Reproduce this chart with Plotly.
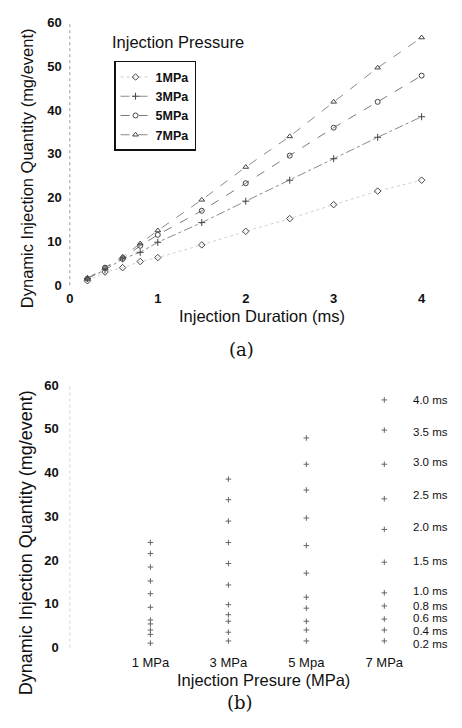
import plotly.graph_objects as go

# ---- data ----
durations = [0.2, 0.4, 0.6, 0.8, 1.0, 1.5, 2.0, 2.5, 3.0, 3.5, 4.0]
pressures = ["1MPa", "3MPa", "5MPa", "7MPa"]
pressure_vals = [1, 3, 5, 7]
pressure_ticks = ["1 MPa", "3 MPa", "5 Mpa", "7 MPa"]
q_1mpa = [1.0, 3.0, 4.0, 5.4, 6.3, 9.2, 12.3, 15.2, 18.4, 21.5, 24.0]
q_3mpa = [1.5, 3.5, 6.0, 7.5, 9.8, 14.3, 19.2, 24.0, 28.9, 33.8, 38.5]
q_5mpa = [1.5, 4.0, 6.0, 9.0, 11.5, 17.0, 23.3, 29.6, 36.0, 41.9, 47.9]
q_7mpa = [1.5, 4.0, 6.5, 9.5, 12.5, 19.5, 27.0, 34.0, 41.9, 49.7, 56.6]
series = [q_1mpa, q_3mpa, q_5mpa, q_7mpa]
dur_labels = ["0.2 ms", "0.4 ms", "0.6 ms", "0.8 ms", "1.0 ms", "1.5 ms",
              "2.0 ms", "2.5 ms", "3.0 ms", "3.5 ms", "4.0 ms"]
dur_label_y = [0.9, 3.8, 6.7, 9.6, 13.0, 19.7, 27.5, 34.9, 42.3, 49.2, 56.6]

FONT = "Arial, Liberation Sans, sans-serif"
symbols = ["diamond-open", "cross-thin-open", "circle-open", "triangle-up-open"]
dashes = ["dot", "dashdot", "dash", "dash"]
line_cols = ["#cfcfcf", "#8a8a8a", "#7a7a7a", "#8a8a8a"]

fig = go.Figure()

# (a) quantity vs duration
for name, ys, sym, dsh, lc in zip(pressures, series, symbols, dashes, line_cols):
    fig.add_trace(go.Scatter(
        x=durations, y=ys, name=name, mode="lines+markers",
        line=dict(color=lc, width=1, dash=dsh),
        marker=dict(symbol=sym, size=5, color="#444",
                    line=dict(color="#444", width=1)),
        xaxis="x", yaxis="y", cliponaxis=False))

# (b) quantity vs pressure
for pv, ys in zip(pressure_vals, series):
    fig.add_trace(go.Scatter(
        x=[pv] * len(ys), y=ys, mode="markers", showlegend=False,
        marker=dict(symbol="cross-thin-open", size=4, color="#666",
                    line=dict(color="#666", width=1)),
        xaxis="x2", yaxis="y2", cliponaxis=False))

W, H = 462, 728
px = lambda v: v / W
py = lambda v: 1 - v / H

def axis_common(bold=True, standoff=9, size=13):
    return dict(showgrid=False, zeroline=False, showline=False, ticks="",
                ticklabelstandoff=standoff,
                tickfont=dict(family=FONT, size=size, color="#111",
                              weight="bold" if bold else "normal"))

fig.update_layout(
    width=W, height=H, margin=dict(l=0, r=0, t=0, b=0),
    paper_bgcolor="white", plot_bgcolor="white",
    font=dict(family=FONT, color="#111"),
    xaxis=dict(domain=[px(67), px(425)], range=[0, 4], tickvals=[0, 1, 2, 3, 4],
               anchor="y", **axis_common(True, 4)),
    yaxis=dict(domain=[py(284), py(16)], range=[0, 60], tickvals=[0, 10, 20, 30, 40, 50, 60],
               anchor="x", **axis_common(True, 7)),
    xaxis2=dict(domain=[px(67), px(460)], range=[-1.067, 8.84], tickvals=pressure_vals,
                ticktext=pressure_ticks, anchor="y2", **axis_common(False, 5)),
    yaxis2=dict(domain=[py(654), py(386)], range=[0, 60], tickvals=[0, 10, 20, 30, 40, 50, 60],
                anchor="x2", **axis_common(True, 10)),
    legend=dict(x=px(112), y=py(55), xanchor="left", yanchor="top",
                bgcolor="white", bordercolor="#111", borderwidth=1.5,
                font=dict(family=FONT, size=12.5, color="#111", weight="bold"),
                itemwidth=30, tracegroupgap=0),
    showlegend=True,
)

# dotted faint y-axis lines
fig.add_shape(type="line", xref="paper", yref="paper", x0=px(67), x1=px(67),
              y0=py(284), y1=py(16), line=dict(color="#9a9a9a", width=1, dash="dot"))
fig.add_shape(type="line", xref="paper", yref="paper", x0=px(67), x1=px(67),
              y0=py(654), y1=py(386), line=dict(color="#d4d4d4", width=1, dash="dot"))

def note(text, x, y, size=16.5, family=FONT, angle=0, xanchor="center"):
    return dict(text=text, x=px(x), y=py(y), xref="paper", yref="paper",
                xanchor=xanchor, yanchor="middle", textangle=angle, showarrow=False,
                font=dict(family=family, size=size, color="#111"))

ann = [
    note("Injection Pressure", 108, 36, xanchor="left"),
    note("Dynamic Injection Quantity (mg/event)", 23, 165, angle=-90),
    note("Injection Duration (ms)", 263, 316),
    note("(a)", 242, 350, size=18, family="DejaVu Serif, Liberation Serif, serif"),
    note("Dynamic Injection Quantity (mg/event)", 22, 547, size=18, angle=-90),
    note("Injection Presure (MPa)", 264, 687),
    note("(b)", 240, 710, size=18, family="DejaVu Serif, Liberation Serif, serif"),
]
for t, yv in zip(dur_labels, dur_label_y):
    ann.append(dict(text=t, x=px(414), y=yv, xref="paper", yref="y2", xanchor="left",
                    yanchor="middle", showarrow=False,
                    font=dict(family=FONT, size=11.5, color="#111")))
fig.update_layout(annotations=ann)

fig.write_html("out.html")
